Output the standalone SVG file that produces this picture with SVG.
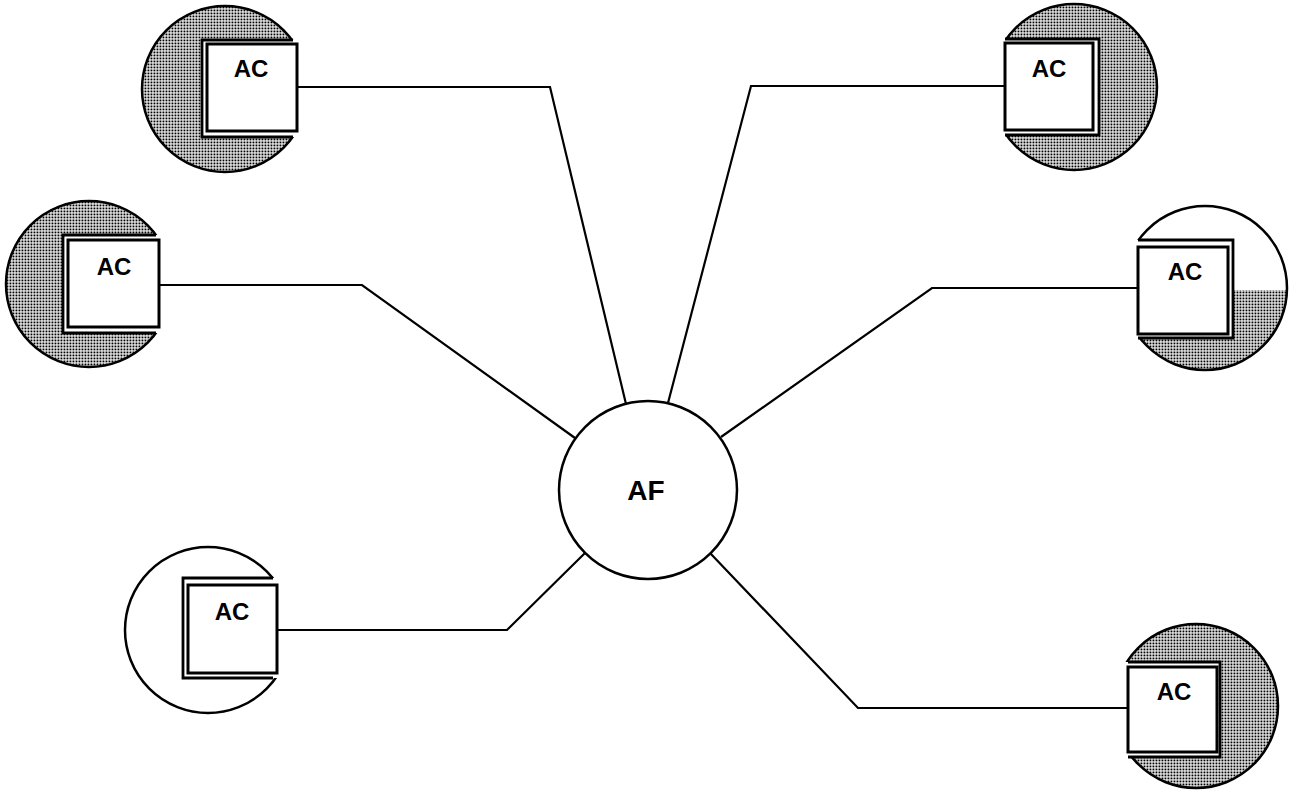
<svg xmlns="http://www.w3.org/2000/svg" width="1290" height="791" viewBox="0 0 1290 791">
  <defs>
    <pattern id="dots" patternUnits="userSpaceOnUse" width="3" height="3">
      <rect width="3" height="3" fill="#ffffff"/>
      <rect x="0.5" y="0.5" width="1.9" height="1.9" fill="#000000"/>
    </pattern>
    <clipPath id="c4"><circle cx="1205" cy="288" r="82"/></clipPath>
    <style>
      .ring { stroke: #000; stroke-width: 2.5; }
      .shade { fill: url(#dots); }
      .plain { fill: #fff; }
      .cover { fill: #fff; stroke: none; }
      .outer { fill: #fff; stroke: #000; stroke-width: 2.8; }
      .inner { fill: #fff; stroke: #000; stroke-width: 3; }
      .lbl { font-family: "Liberation Sans", Arial, sans-serif; font-weight: bold; font-size: 24px; fill: #000; text-anchor: middle; }
      .af { font-size: 28px; }
      .conn { fill: none; stroke: #000; stroke-width: 2.2; stroke-linejoin: miter; }
    </style>
  </defs>
  <rect width="1290" height="791" fill="#fff"/>

  <g id="af">
    <circle class="ring plain" cx="648" cy="490" r="89"/>
    <text class="lbl af" x="646" y="500">AF</text>
  </g>

  <g id="ac1">
    <circle class="ring shade" cx="225" cy="89" r="83"/>
    <rect class="cover" x="202" y="40" width="120" height="97"/>
    <path class="outer" d="M293,40 H202 V137 H293"/>
    <rect class="inner" x="207" y="44" width="90" height="87"/>
    <text class="lbl" x="251" y="77">AC</text>
  </g>

  <g id="ac2">
    <circle class="ring shade" cx="1074" cy="87" r="83"/>
    <rect class="cover" x="985" y="39" width="114" height="96"/>
    <path class="outer" d="M1005,39 H1099 V135 H1005"/>
    <rect class="inner" x="1005" y="43" width="88" height="87"/>
    <text class="lbl" x="1049" y="77">AC</text>
  </g>

  <g id="ac3">
    <circle class="ring shade" cx="89" cy="284" r="83"/>
    <rect class="cover" x="63" y="235" width="120" height="98"/>
    <path class="outer" d="M156,235 H63 V333 H156"/>
    <rect class="inner" x="68" y="240" width="91" height="87"/>
    <text class="lbl" x="114" y="275">AC</text>
  </g>

  <g id="ac4">
    <circle class="plain" cx="1205" cy="288" r="82"/>
    <rect class="shade" x="1120" y="290" width="170" height="90" clip-path="url(#c4)"/>
    <circle class="ring" fill="none" cx="1205" cy="288" r="82"/>
    <rect class="cover" x="1115" y="240" width="118" height="98"/>
    <path class="outer" d="M1138,240 H1233 V338 H1138"/>
    <rect class="inner" x="1138" y="247" width="90" height="87"/>
    <text class="lbl" x="1185" y="280">AC</text>
  </g>

  <g id="ac5">
    <circle class="ring plain" cx="208" cy="630" r="83"/>
    <rect class="cover" x="183" y="578" width="120" height="100"/>
    <path class="outer" d="M273,578 H183 V678 H273"/>
    <rect class="inner" x="188" y="585" width="89" height="88"/>
    <text class="lbl" x="232" y="620">AC</text>
  </g>

  <g id="ac6">
    <circle class="ring shade" cx="1196" cy="706" r="82"/>
    <rect class="cover" x="1105" y="662" width="115" height="95"/>
    <path class="outer" d="M1128,662 H1220 V757 H1128"/>
    <rect class="inner" x="1128" y="667" width="89" height="85"/>
    <text class="lbl" x="1174" y="700">AC</text>
  </g>

  <g id="connectors">
    <path class="conn" d="M297,87 H550 L626,404"/>
    <path class="conn" d="M1005,86 H751 L668,403"/>
    <path class="conn" d="M159,285 H362 L575,438"/>
    <path class="conn" d="M1138,288 H932 L721,437"/>
    <path class="conn" d="M277,630 H507 L585,553"/>
    <path class="conn" d="M1128,708 H858 L710,553"/>
  </g>
</svg>
